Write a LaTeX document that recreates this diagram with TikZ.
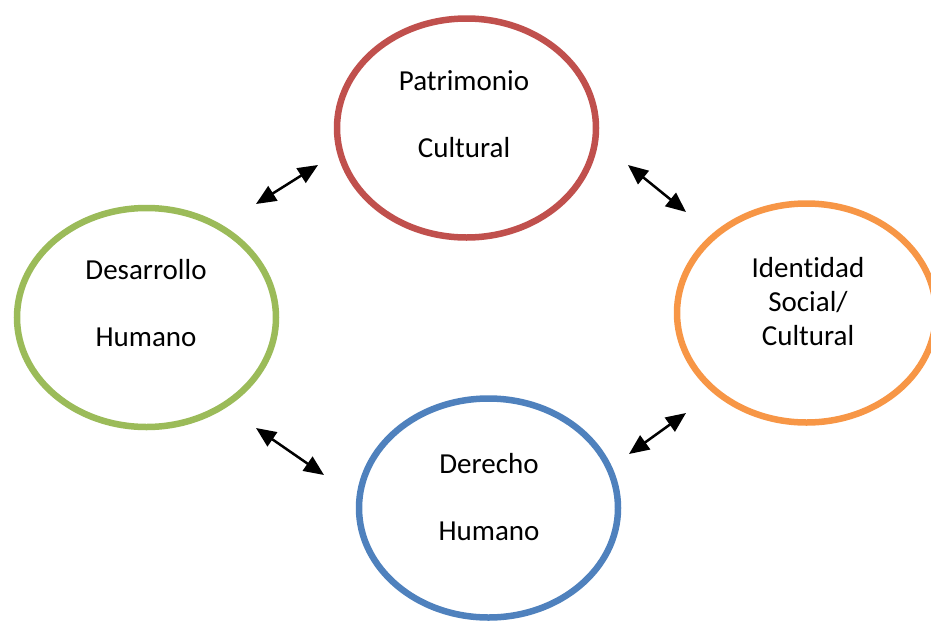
\documentclass[tikz,border=0pt]{standalone}
\usepackage{fontspec}
\setmainfont[Ligatures={NoCommon}]{Carlito}
\usetikzlibrary{shapes.geometric, arrows.meta}
\definecolor{rojo}{HTML}{C0504D}
\definecolor{verde}{HTML}{9BBB59}
\definecolor{naranja}{HTML}{F79646}
\definecolor{azul}{HTML}{4F81BD}

\begin{document}
\begin{tikzpicture}[x=1pt, y=-1pt,
		circulo/.style={ellipse, draw, line width=6.5pt, minimum width=259pt, minimum height=219pt, inner sep=0pt},
		texto/.style={align=center, font=\fontsize{29}{34}\selectfont, inner sep=0pt},
		flecha/.style={{Triangle[length=20pt,width=17pt]}-{Triangle[length=20pt,width=17pt]}, line width=2.5pt}]
		\useasboundingbox (0,0) rectangle (931,621);
		
		\node[circulo, rojo] (pc) at (466.5,128) {};
		\node[circulo, verde] (dh) at (146.5,317.5) {};
		\node[circulo, naranja] (is) at (806.5,313) {};
		\node[circulo, azul] (dr) at (488.5,508) {};
		
		\node[texto] (tpc) at (464,114) {Patrimonio\\[33pt]Cultural};
		\node[texto] (tdh) at (146,303) {Desarrollo\\[33pt]Humano};
		\node[texto] (tis) at (808,302) {Identidad\\Social/\\Cultural};
		\node[texto] (tdr) at (489,497) {Derecho\\[33pt]Humano};
		
		\coordinate (a1) at (256,204);
		\coordinate (a2) at (318,165);
		\coordinate (b1) at (628,165);
		\coordinate (b2) at (686,212);
		\coordinate (c1) at (629,454);
		\coordinate (c2) at (686,413);
		\coordinate (d1) at (256,428);
		\coordinate (d2) at (324,475);
		
		\draw (a1) edge[flecha] (a2);
		\draw (b1) edge[flecha] (b2);
		\draw (c1) edge[flecha] (c2);
		\draw (d1) edge[flecha] (d2);
	\end{tikzpicture}
\end{document}
